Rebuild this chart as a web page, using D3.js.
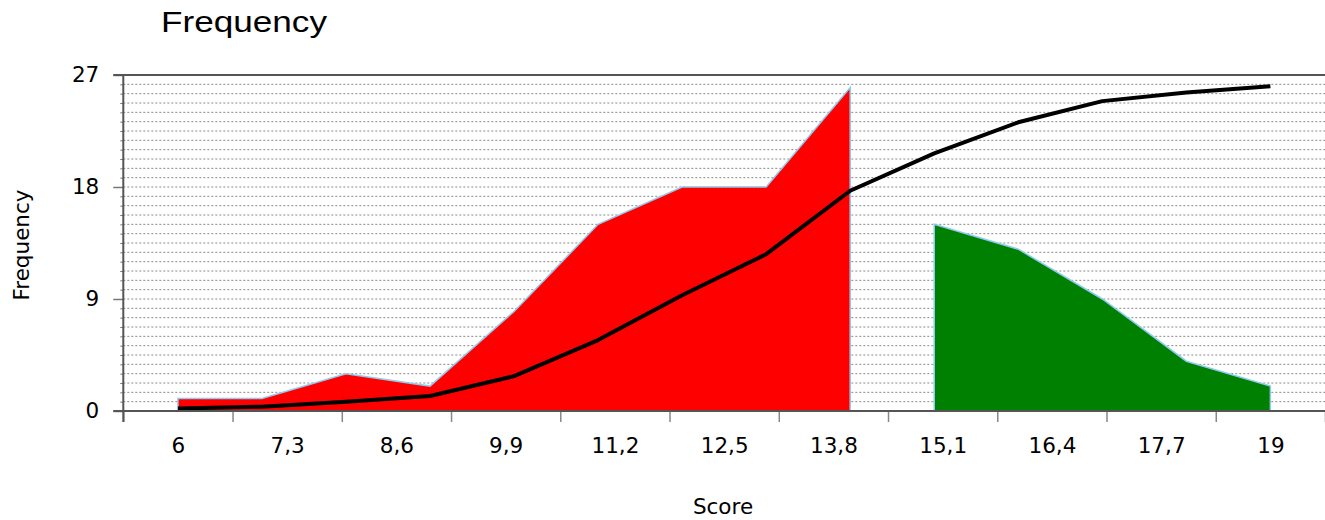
<!DOCTYPE html>
<html>
<head>
<meta charset="utf-8">
<script src="https://d3js.org/d3.v7.min.js"></script>
<style>
  body { margin: 0; background: #fff; }
  svg text { font-family: "DejaVu Sans", Verdana, sans-serif; fill: #000; }
</style>
</head>
<body>
<div id="chart"></div>
<script>
// scores along the x axis (one point per whole score)
const scoresLow = [6, 7, 8, 9, 10, 11, 12, 13, 14];
const freqLow = [1, 1, 3, 2, 8, 15, 18, 18, 26];
const scoresHigh = [15, 16, 17, 18, 19];
const freqHigh = [15, 13, 9, 4, 2];

// running (cumulative) curve
const scoresAll = [6, 7, 8, 9, 10, 11, 12, 13, 14, 15, 16, 17, 18, 19];
const cumulative = [0.2, 0.35, 0.75, 1.2, 2.8, 5.7, 9.3, 12.6, 17.7, 20.7, 23.2, 24.9, 25.6, 26.1];

// axis labels
const xTickValues = [6, 7.3, 8.6, 9.9, 11.2, 12.5, 13.8, 15.1, 16.4, 17.7, 19];
const xTickLabels = ["6", "7,3", "8,6", "9,9", "11,2", "12,5", "13,8", "15,1", "16,4", "17,7", "19"];
const yTickValues = [0, 9, 18, 27];

const width = 1325;
const height = 520;
const plotLeft = 123.3, plotRight = 1325, plotTop = 75, plotBottom = 411;
const labelSize = 21.5;

const svg = d3
  .select("#chart")
  .append("svg")
  .attr("width", width)
  .attr("height", height);

// x is continuous, labels sit in the middle of each 1.3 wide bin
const x = d3.scaleLinear().domain([5.35, 19.65]).range([plotLeft, plotRight]);
const y = d3.scaleLinear().domain([0, 27]).range([plotBottom, plotTop]);

const minorStep = 0.75;
const minorValues = d3.range(minorStep, 27, minorStep);

// dotted grid
svg
  .append("g")
  .selectAll("line")
  .data(minorValues)
  .join("line")
  .attr("x1", plotLeft)
  .attr("x2", plotRight)
  .attr("y1", (d) => y(d))
  .attr("y2", (d) => y(d))
  .attr("stroke", "#8a8a8a")
  .attr("stroke-width", 1)
  .attr("stroke-dasharray", "2,2");

// areas
const area = d3
  .area()
  .x((d) => x(d[0]))
  .y0(y(0))
  .y1((d) => y(d[1]));

svg
  .append("path")
  .datum(d3.zip(scoresLow, freqLow))
  .attr("d", area)
  .attr("fill", "#ff0000")
  .attr("stroke", "#8ccbef")
  .attr("stroke-width", 1.5);

svg
  .append("path")
  .datum(d3.zip(scoresHigh, freqHigh))
  .attr("d", area)
  .attr("fill", "#008000")
  .attr("stroke", "#8ccbef")
  .attr("stroke-width", 1.5);

// cumulative line
svg
  .append("path")
  .datum(d3.zip(scoresAll, cumulative))
  .attr(
    "d",
    d3
      .line()
      .x((d) => x(d[0]))
      .y((d) => y(d[1]))
  )
  .attr("fill", "none")
  .attr("stroke", "#000")
  .attr("stroke-width", 4)
  .attr("stroke-linejoin", "round");

// y axis: minor ticks, major ticks + labels
svg
  .append("g")
  .attr("transform", `translate(${plotLeft},0)`)
  .call(d3.axisLeft(y).tickValues(minorValues).tickSize(3).tickFormat(""))
  .call((g) => g.select(".domain").remove())
  .call((g) => g.selectAll(".tick line").attr("stroke", "#777"));

svg
  .append("g")
  .attr("transform", `translate(${plotLeft},0)`)
  .call(d3.axisLeft(y).tickValues(yTickValues).tickSize(10).tickPadding(14))
  .call((g) => g.select(".domain").remove())
  .call((g) => g.selectAll(".tick line").attr("stroke", "#777").attr("stroke-width", 1.5))
  .call((g) => g.selectAll(".tick text").attr("font-size", labelSize).attr("font-family", "DejaVu Sans"));

// x axis: marks at bin edges, labels in the middle
const xEdges = xTickValues.map((v) => v - 0.65).concat([19.65]);
svg
  .append("g")
  .attr("transform", `translate(0,${plotBottom})`)
  .call(d3.axisBottom(x).tickValues(xEdges).tickSize(11).tickFormat(""))
  .call((g) => g.select(".domain").remove())
  .call((g) => g.selectAll(".tick line").attr("stroke", "#888").attr("stroke-width", 1.5));

svg
  .append("g")
  .attr("transform", `translate(0,${plotBottom})`)
  .call(
    d3
      .axisBottom(x)
      .tickValues(xTickValues)
      .tickSize(0)
      .tickPadding(27)
      .tickFormat((d, i) => xTickLabels[i])
  )
  .call((g) => g.select(".domain").remove())
  .call((g) => g.selectAll(".tick text").attr("font-size", labelSize).attr("font-family", "DejaVu Sans"));

// frame lines
svg
  .append("line")
  .attr("x1", plotLeft - 10).attr("x2", plotRight)
  .attr("y1", plotTop).attr("y2", plotTop)
  .attr("stroke", "#555").attr("stroke-width", 2);
svg
  .append("line")
  .attr("x1", plotLeft - 10).attr("x2", plotRight)
  .attr("y1", plotBottom).attr("y2", plotBottom)
  .attr("stroke", "#555").attr("stroke-width", 2);
svg
  .append("line")
  .attr("x1", plotLeft).attr("x2", plotLeft)
  .attr("y1", plotTop).attr("y2", plotBottom + 11)
  .attr("stroke", "#555").attr("stroke-width", 2);

// titles
svg
  .append("text")
  .attr("x", 161)
  .attr("y", 32)
  .attr("font-size", 30)
  .attr("textLength", 166)
  .attr("lengthAdjust", "spacingAndGlyphs")
  .style("font-family", "'Liberation Sans', Arial, sans-serif")
  .text("Frequency");

svg
  .append("text")
  .attr("x", 723)
  .attr("y", 514)
  .attr("text-anchor", "middle")
  .attr("font-size", labelSize)
  .text("Score");

svg
  .append("text")
  .attr("transform", "translate(29,245) rotate(-90)")
  .attr("text-anchor", "middle")
  .attr("font-size", labelSize)
  .text("Frequency");
</script>
</body>
</html>
